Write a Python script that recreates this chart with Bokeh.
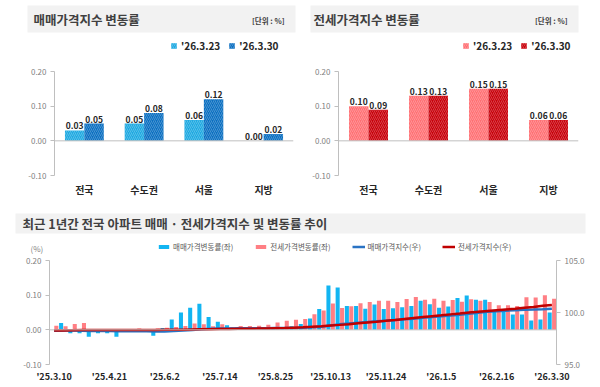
from bokeh.plotting import figure
from bokeh.models import (ColumnDataSource, FactorRange, Range1d, LinearAxis, FixedTicker,
                          PrintfTickFormatter, Span, Label, BoxAnnotation, Legend, LegendItem)
from bokeh.layouts import column, row
from bokeh.transform import dodge
from bokeh.embed import file_html
from bokeh.resources import INLINE
from bokeh.core.properties import value

FONT = "Noto Sans CJK KR"

# ---------------- data ----------------
regions = ["전국", "수도권", "서울", "지방"]
week_prev_label = "'26.3.23"
week_curr_label = "'26.3.30"
sale_prev = [0.03, 0.05, 0.06, 0.00]
sale_curr = [0.05, 0.08, 0.12, 0.02]
jeonse_prev = [0.10, 0.13, 0.15, 0.06]
jeonse_curr = [0.09, 0.13, 0.15, 0.06]

week_tick_labels = ["'25.3.10", "'25.4.21", "'25.6.2", "'25.7.14", "'25.8.25",
                    "'25.10.13", "'25.11.24", "'26.1.5", "'26.2.16", "'26.3.30"]

sale_change = [0.00, 0.02, -0.01, -0.01, -0.02, -0.01, -0.01, -0.02, -0.004, -0.002,
               0.00, -0.017, 0.005, 0.03, 0.05, 0.064, 0.075, 0.037, 0.023, 0.013,
               0.005, 0.005, 0.004, 0.005, 0.006, 0.008, 0.01, 0.017, 0.033, 0.06,
               0.128, 0.122, 0.069, 0.069, 0.061, 0.073, 0.06, 0.062, 0.065, 0.069,
               0.084, 0.074, 0.064, 0.067, 0.092, 0.099, 0.087, 0.087, 0.058, 0.058,
               0.044, 0.044, 0.027, 0.03, 0.05]
jeonse_change = [0.012, 0.01, 0.017, 0.02, 0.00, 0.00, 0.00, 0.00, 0.00, 0.004,
                 0.002, 0.004, 0.006, 0.008, 0.011, 0.018, 0.016, 0.01, 0.016, 0.008,
                 0.011, 0.011, 0.012, 0.015, 0.021, 0.026, 0.029, 0.031, 0.045, 0.056,
                 0.076, 0.063, 0.068, 0.077, 0.08, 0.084, 0.084, 0.08, 0.089, 0.095,
                 0.087, 0.09, 0.084, 0.086, 0.081, 0.088, 0.084, 0.08, 0.071, 0.071,
                 0.069, 0.094, 0.093, 0.10, 0.09]
sale_index = [98.25, 98.27, 98.26, 98.25, 98.23, 98.22, 98.21, 98.19, 98.19, 98.19,
              98.19, 98.17, 98.18, 98.21, 98.26, 98.32, 98.40, 98.44, 98.46, 98.47,
              98.48, 98.48, 98.49, 98.49, 98.50, 98.51, 98.52, 98.54, 98.57, 98.63,
              98.76, 98.88, 98.95, 99.02, 99.08, 99.15, 99.21, 99.28, 99.34, 99.41,
              99.49, 99.57, 99.63, 99.70, 99.79, 99.89, 99.98, 100.06, 100.12, 100.18,
              100.22, 100.27, 100.29, 100.32, 100.37]
jeonse_index = [98.26, 98.27, 98.29, 98.31, 98.31, 98.31, 98.31, 98.31, 98.31, 98.31,
                98.32, 98.32, 98.33, 98.34, 98.35, 98.37, 98.38, 98.39, 98.41, 98.42,
                98.43, 98.44, 98.45, 98.47, 98.49, 98.51, 98.54, 98.57, 98.62, 98.67,
                98.75, 98.81, 98.88, 98.96, 99.04, 99.12, 99.21, 99.29, 99.38, 99.47,
                99.56, 99.65, 99.73, 99.82, 99.90, 99.99, 100.07, 100.15, 100.22, 100.29,
                100.36, 100.45, 100.54, 100.64, 100.73]

GRAY_AX = "#bfbfbf"
GRAY_TXT = "#7f7f7f"
DARK = "#262626"
TITLE_BG = "#f2f2f2"
TITLE_TXT = "#404040"
SALE_PREV_C, SALE_CURR_C = "#1ea9e1", "#0b6fc1"
JEON_PREV_C, JEON_CURR_C = "#ff6f73", "#c8000a"
SALE_BAR_C, JEON_BAR_C = "#12b5f2", "#ff7f84"
SALE_LINE_C, JEON_LINE_C = "#2a73c4", "#c00000"

HATCH = dict(hatch_pattern="right_diagonal_line", hatch_color="white",
             hatch_alpha=0.25, hatch_scale=4, hatch_weight=1)


def header(width, height):
    """A figure whose frame is the whole canvas, with pixel data coordinates (y down)."""
    h = figure(width=width, height=height, x_range=Range1d(0, width),
               y_range=Range1d(height, 0), x_axis_type=None, y_axis_type=None,
               output_backend="svg", toolbar_location=None, title=None, min_border=0)
    h.outline_line_color = None
    h.background_fill_color = "white"
    h.border_fill_color = "white"
    return h


def add_box(h, x0, x1, y0, y1):
    h.add_layout(BoxAnnotation(left=x0, right=x1, top=y0, bottom=y1,
                               fill_color=TITLE_BG, fill_alpha=1.0, line_color=None))


def add_text(h, x, y, text, size, color, bold=True, align="left"):
    h.add_layout(Label(x=x, y=y, text=text, text_font=FONT, text_font_size=size,
                       text_font_style="bold" if bold else "normal",
                       text_color=color, text_baseline="middle", text_align=align))


def style_left_axis(ax):
    ax.axis_line_color = GRAY_AX
    ax.major_tick_line_color = GRAY_AX
    ax.major_tick_out = 4
    ax.major_tick_in = 0
    ax.minor_tick_line_color = None
    ax.major_label_text_font = FONT
    ax.major_label_text_font_size = "8px"
    ax.major_label_text_color = GRAY_TXT
    ax.major_label_standoff = 4


def legend_swatch_source():
    # a single zero-height item: invisible, only lends its style to a legend swatch
    return ColumnDataSource(dict(x=[0], top=[0]))


def bar_header(title, c_prev, c_curr, g):
    h = header(300, 60)
    add_box(h, g["gx0"], g["gx1"], 5, 32)
    add_text(h, g["tx"], 19, title, "12.5px", TITLE_TXT)
    add_text(h, g["ux"], 20, "[단위 : %]", "7.5px", TITLE_TXT, align="right")
    d1 = h.vbar(x="x", top="top", width=1, source=legend_swatch_source(),
                fill_color=c_prev, line_color=None, **HATCH)
    d2 = h.vbar(x="x", top="top", width=1, source=legend_swatch_source(),
                fill_color=c_curr, line_color=None, **HATCH)
    leg = Legend(items=[LegendItem(label=week_prev_label, renderers=[d1]),
                        LegendItem(label=week_curr_label, renderers=[d2])],
                 location=(g["lx"], 7), orientation="horizontal",
                 glyph_width=7, glyph_height=7, label_standoff=4, spacing=8,
                 padding=0, margin=0, border_line_color=None, background_fill_alpha=0,
                 label_text_font=FONT, label_text_font_size="10px",
                 label_text_font_style="bold", label_text_color=DARK, label_height=12)
    h.add_layout(leg)
    return h


def bar_panel(prev, curr, c_prev, c_curr, g):
    p = figure(width=300, height=140, x_range=FactorRange(*regions),
               y_range=Range1d(-0.1, 0.2), output_backend="svg", toolbar_location=None,
               title=None, min_border_left=g["bl"], min_border_right=g["br"],
               min_border_top=g["bt"], min_border_bottom=g["bb"])
    p.outline_line_color = None
    p.xgrid.grid_line_color = None
    p.ygrid.grid_line_color = None

    src = ColumnDataSource(dict(cat=regions, prev=prev, curr=curr,
                                prev_lbl=["%.2f" % v for v in prev],
                                curr_lbl=["%.2f" % v for v in curr]))
    p.vbar(x=dodge("cat", -0.1625, range=p.x_range), top="prev", width=0.325,
           source=src, fill_color=c_prev, line_color=None, **HATCH)
    p.vbar(x=dodge("cat", 0.1625, range=p.x_range), top="curr", width=0.325,
           source=src, fill_color=c_curr, line_color=None, **HATCH)
    txt = dict(text_align="center", text_baseline="bottom", y_offset=-1,
               text_font=value(FONT), text_font_size="8.5px", text_font_style="bold",
               text_color=DARK)
    p.text(x=dodge("cat", -0.1625, range=p.x_range), y="prev", text="prev_lbl", source=src, **txt)
    p.text(x=dodge("cat", 0.1625, range=p.x_range), y="curr", text="curr_lbl", source=src, **txt)

    p.add_layout(Span(location=0, dimension="width", line_color=GRAY_AX, line_width=1))

    p.yaxis.ticker = FixedTicker(ticks=[-0.1, 0.0, 0.1, 0.2])
    p.yaxis.formatter = PrintfTickFormatter(format="%.2f")
    style_left_axis(p.yaxis[0])

    p.xaxis.axis_line_color = None
    p.xaxis.major_tick_line_color = None
    p.xaxis.major_tick_out = 0
    p.xaxis.major_label_text_font = FONT
    p.xaxis.major_label_text_font_size = "10px"
    p.xaxis.major_label_text_font_style = "bold"
    p.xaxis.major_label_text_color = DARK
    p.xaxis.major_label_standoff = 6
    return p


h1 = bar_header("매매가격지수 변동률", SALE_PREV_C, SALE_CURR_C,
                dict(gx0=27, gx1=295, tx=33, ux=284, lx=170))
h2 = bar_header("전세가격지수 변동률", JEON_PREV_C, JEON_CURR_C,
                dict(gx0=10, gx1=278, tx=13, ux=267, lx=162))
p1 = bar_panel(sale_prev, sale_curr, SALE_PREV_C, SALE_CURR_C,
               dict(bl=54, br=7, bt=11, bb=24))
p2 = bar_panel(jeonse_prev, jeonse_curr, JEON_PREV_C, JEON_CURR_C,
               dict(bl=38, br=22, bt=8, bb=25))

# ---------------- bottom chart ----------------
n = len(sale_change)
weeks = list(range(n))
tick_pos = list(range(0, n, 6))

p3 = figure(width=600, height=133, x_range=Range1d(-0.5, n - 0.5),
            y_range=Range1d(-0.1, 0.2), output_backend="svg", toolbar_location=None,
            title=None, min_border_left=49, min_border_right=44,
            min_border_top=6, min_border_bottom=23)
p3.outline_line_color = None
p3.xgrid.grid_line_color = None
p3.ygrid.grid_line_color = None
p3.extra_y_ranges = {"idx": Range1d(95, 105)}

src3 = ColumnDataSource(dict(w=weeks, sale=sale_change, jeonse=jeonse_change,
                             sidx=sale_index, jidx=jeonse_index))
p3.vbar(x=dodge("w", -0.24), top="sale", width=0.44, source=src3,
        fill_color=SALE_BAR_C, line_color=None)
p3.vbar(x=dodge("w", 0.24), top="jeonse", width=0.44, source=src3,
        fill_color=JEON_BAR_C, line_color=None)
p3.add_layout(Span(location=0, dimension="width", line_color=GRAY_AX, line_width=1))
p3.line(x="w", y="sidx", source=src3, y_range_name="idx", line_color=SALE_LINE_C, line_width=2.5)
p3.line(x="w", y="jidx", source=src3, y_range_name="idx", line_color=JEON_LINE_C, line_width=2.5)

p3.yaxis.ticker = FixedTicker(ticks=[-0.1, 0.0, 0.1, 0.2])
p3.yaxis.formatter = PrintfTickFormatter(format="%.2f")
rax = LinearAxis(y_range_name="idx", ticker=FixedTicker(ticks=[95, 100, 105]),
                 formatter=PrintfTickFormatter(format="%.1f"))
p3.add_layout(rax, "right")
style_left_axis(p3.yaxis[0])
style_left_axis(rax)

p3.xaxis.ticker = FixedTicker(ticks=tick_pos)
p3.xaxis.major_label_overrides = {t: lab for t, lab in zip(tick_pos, week_tick_labels)}
p3.xaxis.axis_line_color = None
p3.xaxis.major_tick_line_color = None
p3.xaxis.major_tick_out = 0
p3.xaxis.minor_tick_line_color = None
p3.xaxis.major_label_text_font = FONT
p3.xaxis.major_label_text_font_size = "9px"
p3.xaxis.major_label_text_font_style = "bold"
p3.xaxis.major_label_text_color = DARK
p3.xaxis.major_label_standoff = 5

h3 = header(600, 54)
add_box(h3, 15, 585, 13, 33)
add_text(h3, 22, 23, "최근 1년간 전국 아파트 매매 · 전세가격지수 및 변동률 추이", "12.5px", TITLE_TXT)
add_text(h3, 30, 48, "(%)", "8px", GRAY_TXT, bold=False)
sw_line = ColumnDataSource(dict(x=[0], y=[0]))
e1 = h3.vbar(x="x", top="top", width=1, source=legend_swatch_source(),
             fill_color=SALE_BAR_C, line_color=None)
e2 = h3.vbar(x="x", top="top", width=1, source=legend_swatch_source(),
             fill_color=JEON_BAR_C, line_color=None)
e3 = h3.line(x="x", y="y", source=sw_line, line_color=SALE_LINE_C, line_width=2.5)
e4 = h3.line(x="x", y="y", source=sw_line, line_color=JEON_LINE_C, line_width=2.5)
leg3 = Legend(items=[LegendItem(label="매매가격변동률(좌)", renderers=[e1]),
                     LegendItem(label="전세가격변동률(좌)", renderers=[e2]),
                     LegendItem(label="매매가격지수(우)", renderers=[e3]),
                     LegendItem(label="전세가격지수(우)", renderers=[e4])],
              location=(157, 2), orientation="horizontal",
              glyph_width=13, glyph_height=5, label_standoff=3, spacing=21,
              padding=0, margin=0, border_line_color=None, background_fill_alpha=0,
              label_text_font=FONT, label_text_font_size="7.5px",
              label_text_color="#595959", label_height=9)
h3.add_layout(leg3)

layout = column(row(h1, h2), row(p1, p2), row(h3), row(p3))
open("out.html", "w").write(file_html(layout, INLINE))
